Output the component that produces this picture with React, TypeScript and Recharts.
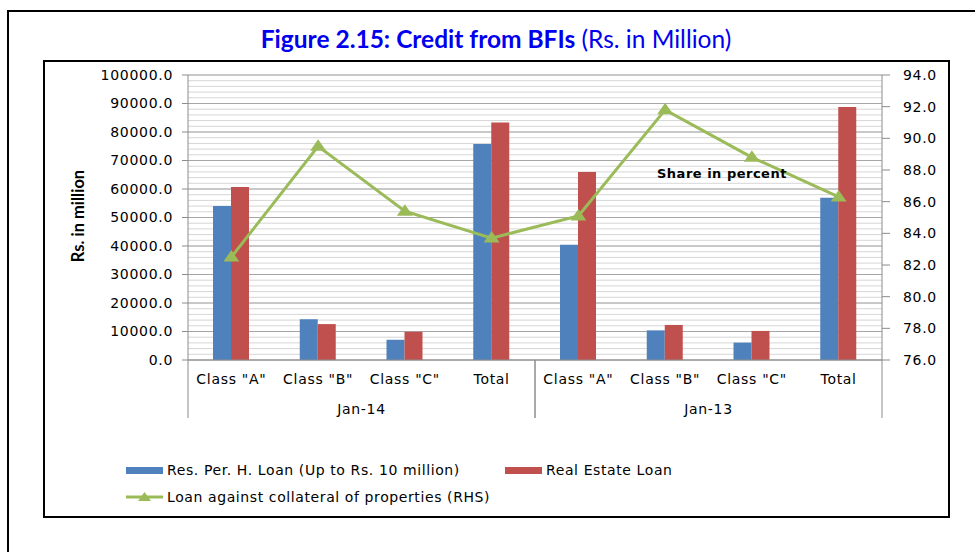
import { Bar, CartesianGrid, ComposedChart, Line, XAxis, YAxis } from "recharts";

const categories = ['Class "A"', 'Class "B"', 'Class "C"', "Total", 'Class "A"', 'Class "B"', 'Class "C"', "Total"];
const groups = ["Jan-14", "Jan-14", "Jan-14", "Jan-14", "Jan-13", "Jan-13", "Jan-13", "Jan-13"];
const resLoan = [54000, 14300, 7100, 75800, 40400, 10400, 6100, 56900];
const realEstate = [60700, 12600, 9900, 83300, 66000, 12300, 10200, 88800];
const share = [82.5, 89.5, 85.4, 83.7, 85.1, 91.8, 88.8, 86.3];

const leftTicks = [0, 10000, 20000, 30000, 40000, 50000, 60000, 70000, 80000, 90000, 100000];
const rightTicks = [76, 78, 80, 82, 84, 86, 88, 90, 92, 94];
const minorGrid = Array.from({ length: 51 }, (_, i) => i * 2000);

const data = categories.map((c, i) => ({
  cls: c,
  group: groups[i],
  res: resLoan[i],
  real: realEstate[i],
  share: share[i],
}));

const BLUE = "#4F81BD";
const RED = "#C0504D";
const GREEN = "#9BBB59";
const AXIS = "#8c8c8c";
const FONT = "'DejaVu Sans', Verdana, sans-serif";
const PLOT_W = 694;

const tickStyle = { fontFamily: FONT, fontSize: 14, fill: "#000", letterSpacing: 0.7 };

function Triangle(props: any) {
  const { cx, cy } = props;
  if (cx == null || cy == null) return null;
  return <polygon points={`${cx},${cy - 7} ${cx - 8},${cy + 4.5} ${cx + 8},${cy + 4.5}`} fill={GREEN} />;
}

function GroupTick(props: any) {
  const { x, y, payload } = props;
  const half = (typeof props.width === "number" ? props.width : PLOT_W) / 4;
  return (
    <g>
      <line x1={x - half} x2={x - half} y1={y - 44} y2={y + 14} stroke={AXIS} />
      <line x1={x + half} x2={x + half} y1={y - 44} y2={y + 14} stroke={AXIS} />
      <text x={x} y={y} dy="0.71em" textAnchor="middle" style={tickStyle}>
        {payload.value}
      </text>
    </g>
  );
}

export default function App() {
  return (
    <div style={{ position: "absolute", left: 0, top: 0, width: 975, height: 552, background: "#fff", overflow: "hidden" }}>
      <div style={{ position: "absolute", left: 7, top: 10, width: 990, height: 580, border: "2px solid #000" }} />
      <div
        style={{
          position: "absolute",
          left: 0,
          top: 24,
          width: 992,
          textAlign: "center",
          fontFamily: "Lato, sans-serif",
          fontSize: 24.5,
          color: "#0000EE",
          whiteSpace: "nowrap",
        }}
      >
        <b>Figure 2.15: Credit from BFIs</b> (Rs. in Million)
      </div>
      <div style={{ position: "absolute", left: 43, top: 60, width: 907, height: 458, border: "2px solid #000", boxSizing: "border-box" }} />
      <div
        style={{
          position: "absolute",
          left: 78,
          top: 216,
          transform: "translate(-50%, -50%) rotate(-90deg)",
          fontFamily: "Lato, sans-serif",
          fontWeight: 700,
          fontSize: 16.5,
          whiteSpace: "nowrap",
        }}
      >
        Rs. in million
      </div>
      <div style={{ position: "absolute", left: 0, top: 0 }}>
        <ComposedChart
          width={975}
          height={552}
          data={data}
          barGap={0}
          margin={{ top: 75, right: 33, left: 8, bottom: 132 }}
        >
          <CartesianGrid yAxisId="left" vertical={false} horizontalValues={minorGrid} stroke="#d6d6d6" />
          <CartesianGrid yAxisId="left" vertical={false} horizontalValues={leftTicks} stroke="#a6a6a6" />
          <XAxis
            xAxisId="cat"
            dataKey="cls"
            interval={0}
            height={30}
            tickSize={0}
            tickMargin={14}
            tickLine={false}
            axisLine={{ stroke: AXIS }}
            tick={tickStyle}
          />
          <XAxis
            xAxisId="grp"
            dataKey="group"
            allowDuplicatedCategory={false}
            interval={0}
            height={30}
            tickSize={0}
            tickMargin={14}
            tickLine={false}
            axisLine={false}
            tick={<GroupTick />}
          />
          <YAxis
            yAxisId="left"
            width={180}
            domain={[0, 100000]}
            ticks={leftTicks}
            interval={0}
            tickFormatter={(v: number) => v.toFixed(1)}
            tickSize={6}
            tickMargin={9}
            tickLine={{ stroke: AXIS }}
            axisLine={{ stroke: AXIS }}
            tick={tickStyle}
          />
          <YAxis
            yAxisId="right"
            orientation="right"
            width={60}
            domain={[76, 94]}
            ticks={rightTicks}
            interval={0}
            tickFormatter={(v: number) => v.toFixed(1)}
            tickSize={8}
            tickMargin={13}
            tickLine={{ stroke: AXIS }}
            axisLine={{ stroke: AXIS }}
            tick={tickStyle}
          />
          <Bar xAxisId="cat" yAxisId="left" dataKey="res" fill={BLUE} barSize={18} isAnimationActive={false} />
          <Bar xAxisId="cat" yAxisId="left" dataKey="real" fill={RED} barSize={18} isAnimationActive={false} />
          <Line
            xAxisId="cat"
            yAxisId="right"
            dataKey="share"
            stroke={GREEN}
            strokeWidth={3}
            dot={<Triangle />}
            activeDot={false}
            isAnimationActive={false}
          />
        </ComposedChart>
      </div>
      <div style={{ position: "absolute", left: 657, top: 166, fontFamily: FONT, fontWeight: 700, fontSize: 13, letterSpacing: 0.5 }}>
        Share in percent
      </div>
      <div style={{ position: "absolute", left: 126, top: 461, fontFamily: FONT, fontSize: 14, letterSpacing: 0.6, whiteSpace: "nowrap" }}>
        <div style={{ position: "absolute", left: 0, top: 0, display: "flex", alignItems: "center", height: 18 }}>
          <span style={{ display: "inline-block", width: 37, height: 7, background: BLUE, marginRight: 4 }} />
          Res. Per. H. Loan (Up to Rs. 10 million)
        </div>
        <div style={{ position: "absolute", left: 379, top: 0, display: "flex", alignItems: "center", height: 18 }}>
          <span style={{ display: "inline-block", width: 37, height: 7, background: RED, marginRight: 4 }} />
          Real Estate Loan
        </div>
        <div style={{ position: "absolute", left: 0, top: 27, display: "flex", alignItems: "center", height: 18 }}>
          <svg width={37} height={12} style={{ marginRight: 4 }}>
            <line x1={0} x2={37} y1={6} y2={6} stroke={GREEN} strokeWidth={3} />
            <polygon points="18.5,1 12,10 25,10" fill={GREEN} />
          </svg>
          Loan against collateral of properties (RHS)
        </div>
      </div>
    </div>
  );
}
